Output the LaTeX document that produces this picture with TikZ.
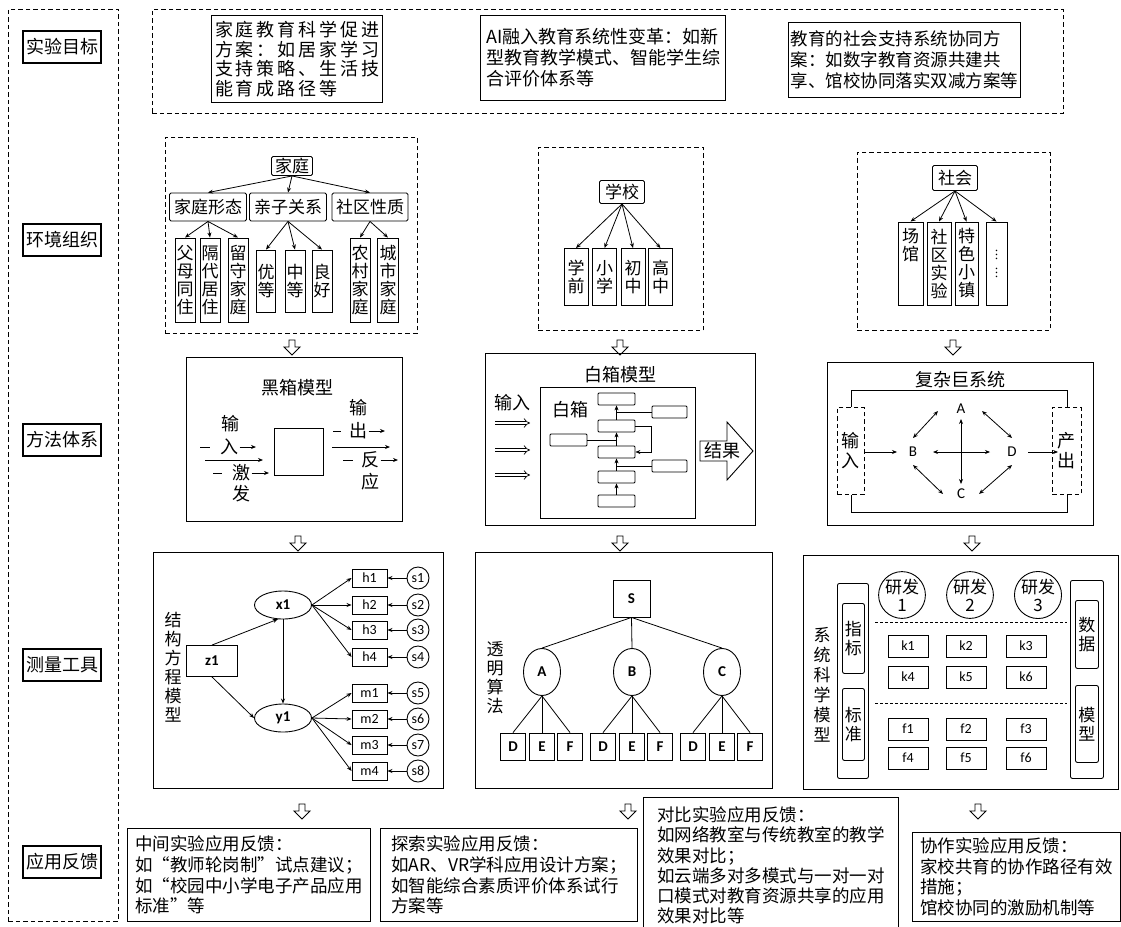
\documentclass[tikz,border=0pt]{standalone}
\usepackage{fontspec}
\newfontfamily\cjk{Noto Sans CJK SC}
\newfontfamily\cjkw[LetterSpace=16]{Noto Sans CJK SC}
\newfontfamily\lat{Carlito}
\usetikzlibrary{arrows.meta,shapes.geometric,calc}
\tikzset{
  every node/.style={font=\cjk\fontsize{18}{20}\selectfont, inner sep=1.5},
  lab/.style={draw, line width=1.4, minimum width=78, minimum height=32, inner sep=1},
  dbox/.style={draw, line width=0.9, dash pattern=on 4.5pt off 3pt},
  goal/.style={draw, line width=1.2, align=left, inner sep=2},
  panel/.style={draw, line width=1.1},
  fb/.style={draw, line width=1, align=left, inner sep=3, font=\cjk\fontsize{17.5}{20.6}\selectfont},
  tn/.style={draw, rounded corners=1.5, line width=0.9, inner sep=0, font=\cjk\fontsize{17}{18}\selectfont},
  leaf/.style={draw, line width=0.9, align=center, inner sep=0, font=\cjk\fontsize{17}{18}\selectfont},
  arr/.style={-{Stealth[length=5pt,width=4pt]}, line width=0.8},
  darr/.style={{Stealth[length=5pt,width=4pt]}-{Stealth[length=5pt,width=4pt]}, line width=0.8},
  dbl/.style={double, double distance=2.6pt, line width=0.7, -{Implies}},
  sb/.style={draw, rounded corners=1, line width=0.8, minimum width=37, minimum height=12, inner sep=0},
  lt/.style={font=\lat\fontsize{14}{14}\selectfont},
  ltb/.style={font=\lat\bfseries\fontsize{15}{15}\selectfont},
  hbox/.style={draw, line width=0.9, minimum width=35, minimum height=18, inner sep=0, lt},
  sc/.style={draw, circle, line width=0.9, minimum size=22, inner sep=0, lt},
  lf/.style={draw, line width=0.9, minimum width=25, minimum height=27, inner sep=0, ltb},
  kb/.style={draw, line width=0.9, minimum width=40, minimum height=22, inner sep=0, lt},
  vt/.style={align=center, font=\cjk\fontsize{17}{19}\selectfont},
  hdown/.pic={\draw[line width=0.9, fill=white] (-3,0) -- (3,0) -- (3,7) -- (8,7) -- (0,15) -- (-8,7) -- (-3,7) -- cycle;}
}
\begin{document}
\begin{tikzpicture}[x=1pt,y=-1pt]
\useasboundingbox (0,0) rectangle (1121,926);
\fill[white] (0,0) rectangle (1121,926);

% ---------- left column ----------
\node[dbox, anchor=north west, minimum width=110, minimum height=912] (leftcol) at (8,9) {};
\node[lab] (l1) at (62,47) {实验目标};
\node[lab] (l2) at (62,240) {环境组织};
\node[lab] (l3) at (62,440) {方法体系};
\node[lab] (l4) at (62,665) {测量工具};
\node[lab] (l5) at (62,862) {应用反馈};

% ---------- goals ----------
\node[dbox, anchor=north west, minimum width=911, minimum height=104] (topbox) at (152,9) {};
\node[goal, anchor=north west, minimum width=171, minimum height=87, font=\cjkw\fontsize{18}{19.6}\selectfont] (g1) at (211,15) {家庭教育科学促进\\方案：如居家学习\\支持策略、生活技\\能育成路径等};
\node[goal, anchor=north west, minimum width=245, minimum height=85, font=\cjk\fontsize{18}{21}\selectfont] (g2) at (480,15) {AI融入教育系统性变革：如新\\型教育教学模式、智能学生综\\合评价体系等};
\node[goal, anchor=north west, minimum width=232, minimum height=75, font=\cjk\fontsize{17.5}{21}\selectfont] (g3) at (788,22) {教育的社会支持系统协同方\\案：如数字教育资源共建共\\享、馆校协同落实双减方案等};

% ---------- family ----------
\node[dbox, anchor=north west, minimum width=252, minimum height=196] (famb) at (165,137) {};
\node[tn, minimum width=41, minimum height=19] (fam) at (292,166) {家庭};
\node[tn, minimum width=77, minimum height=28] (f1) at (208,207) {家庭形态};
\node[tn, minimum width=77, minimum height=28] (f2) at (288,207) {亲子关系};
\node[tn, minimum width=76, minimum height=28] (f3) at (370,207) {社区性质};
\node[leaf, minimum width=20, minimum height=84] (f11) at (185,280) {父\\母\\同\\住};
\node[leaf, minimum width=20, minimum height=84] (f12) at (210,280) {隔\\代\\居\\住};
\node[leaf, minimum width=20, minimum height=84] (f13) at (238,280) {留\\守\\家\\庭};
\node[leaf, minimum width=19, minimum height=62] (f21) at (266,281) {优\\等};
\node[leaf, minimum width=20, minimum height=62] (f22) at (295,281) {中\\等};
\node[leaf, minimum width=20, minimum height=62] (f23) at (322,281) {良\\好};
\node[leaf, minimum width=20, minimum height=84] (f31) at (360,280) {农\\村\\家\\庭};
\node[leaf, minimum width=21, minimum height=84] (f32) at (388,280) {城\\市\\家\\庭};
\foreach \c in {f1,f2,f3} \draw[arr] (fam.south) -- (\c.north);
\foreach \c in {f11,f12,f13} \draw[arr] (f1.south) -- (\c.north);
\foreach \c in {f21,f22,f23} \draw[arr] (f2.south) -- (\c.north);
\foreach \c in {f31,f32} \draw[arr] (f3.south) -- (\c.north);

% ---------- school ----------
\node[dbox, anchor=north west, minimum width=165, minimum height=183] (schb) at (538,147) {};
\node[tn, minimum width=45, minimum height=23] (sch) at (622,192) {学校};
\node[leaf, minimum width=24, minimum height=57] (s1) at (576,277) {学\\前};
\node[leaf, minimum width=24, minimum height=57] (s2) at (604.5,277) {小\\学};
\node[leaf, minimum width=24, minimum height=57] (s3) at (633,277) {初\\中};
\node[leaf, minimum width=24, minimum height=57] (s4) at (660.5,277) {高\\中};
\foreach \c in {s1,s2,s3,s4} \draw[arr] (sch.south) -- (\c.north);

% ---------- society ----------
\node[dbox, anchor=north west, minimum width=193, minimum height=178] (socb) at (857,152) {};
\node[tn, minimum width=45, minimum height=25] (soc) at (955,178) {社会};
\node[leaf, minimum width=25, minimum height=83] (o1) at (910.5,263.5) {场\\馆\\\phantom{场}\\\phantom{场}};
\node[leaf, minimum width=24, minimum height=83] (o2) at (939,263.5) {社\\区\\实\\验};
\node[leaf, minimum width=23, minimum height=83] (o3) at (966.5,263.5) {特\\色\\小\\镇};
\node[leaf, minimum width=21, minimum height=83, font=\cjk\fontsize{12}{18}\selectfont] (o4) at (996.5,263.5) {︙\\︙};
\foreach \c in {o1,o2,o3,o4} \draw[arr] (soc.south) -- (\c.north);

% ---------- hollow arrows ----------
\pic at (292,340) {hdown}; \pic at (620,340) {hdown}; \pic at (953,340) {hdown};
\pic at (298,536) {hdown}; \pic at (620,536) {hdown}; \pic at (972,536) {hdown};
\pic at (302,804) {hdown}; \pic at (628,804) {hdown}; \pic at (978,804) {hdown};

% ---------- black box ----------
\node[panel, anchor=north west, minimum width=216, minimum height=164] (bb) at (186,357) {};
\node (bbt) at (297,388) {黑箱模型};
\node[draw, line width=1, minimum width=49, minimum height=47, inner sep=0] (bsq) at (298.5,451.5) {};
\node (bi1) at (230,424) {输};
\node (bi2) at (229,447) {入};
\node (bj1) at (241,473) {激};
\node (bj2) at (241,494) {发};
\node (bo1) at (358,408) {输};
\node (bo2) at (358,431) {出};
\node (br1) at (370,460) {反};
\node (br2) at (370,482) {应};
\coordinate (pi1) at (200,447); \coordinate (pi2) at (256,447);
\draw[line width=0.8, shorten >=8pt] (pi1) -- (bi2.west); \draw[arr] (bi2.east) -- (pi2);
\coordinate (pl1) at (205,460); \coordinate (pl2) at (263,460); \draw[arr] (pl1) -- (pl2);
\coordinate (pj1) at (213,473); \coordinate (pj2) at (269,473);
\draw[line width=0.8, shorten >=8pt] (pj1) -- (bj1.west); \draw[arr] (bj1.east) -- (pj2);
\coordinate (po1) at (333,431); \coordinate (po2) at (385,431);
\draw[line width=0.8, shorten >=6pt] (po1) -- (bo2.west); \draw[arr] (bo2.east) -- (po2);
\coordinate (pm1) at (332,447); \coordinate (pm2) at (390,447); \draw[arr] (pm1) -- (pm2);
\coordinate (pr1) at (343,460); \coordinate (pr2) at (398,460);
\draw[line width=0.8, shorten >=6pt] (pr1) -- (br1.west); \draw[arr] (br1.east) -- (pr2);

% ---------- white box ----------
\node[panel, anchor=north west, minimum width=270, minimum height=172] (wb) at (485,353) {};
\node (wbt) at (620,375) {白箱模型};
\node[draw, line width=0.9, anchor=north west, minimum width=155, minimum height=131] (wbi) at (540,387) {};
\node (wbin) at (512,403) {输入};
\node (wbl) at (570,410) {白箱};
\foreach \k/\yy in {1/423,2/450,3/475} {
  \coordinate (da\k) at (495,\yy); \coordinate (db\k) at (530,\yy);
  \draw[dbl] (da\k) -- (db\k);
}
\node[sb] (c1) at (616.5,399) {};
\node[sb] (c2) at (616.5,426) {};
\node[sb] (c3) at (616.5,452) {};
\node[sb] (c4) at (616.5,477) {};
\node[sb] (c5) at (616.5,501) {};
\node[sb, minimum width=35] (r1) at (669.5,412) {};
\node[sb, minimum width=35] (r2) at (669.5,466) {};
\node[sb] (lb) at (568.5,440) {};
\draw[arr, line width=0.6] (c2.north) -- (c1.south);
\draw[arr, line width=0.6] (c3.north) -- (c2.south);
\draw[arr, line width=0.6] (c4.north) -- (c3.south);
\draw[arr, line width=0.6] (c5.north) -- (c4.south);
\draw[line width=0.6] (r1.west) -- (r1.west -| c1.south);
\draw[line width=0.6] (lb.east) -- (lb.east -| c2.south);
\draw[line width=0.6] (r2.west) -- (r2.west -| c3.south);
\draw[arr, line width=0.6] (c2.east) -- ++(16,0) |- (c3.east);
\draw[line width=0.9, fill=white] (700,441) -- (727,441) -- (727,422) -- (753,451) -- (727,480) -- (727,461) -- (700,461) -- cycle;
\node (res) at (722,451) {结果};

% ---------- complex giant system ----------
\node[panel, anchor=north west, minimum width=266, minimum height=163] (cx) at (827,362) {};
\node (cxt) at (960,380) {复杂巨系统};
\node[dbox, anchor=north west, minimum width=27, minimum height=87, align=center, inner sep=0] (cin) at (837,407) {输\\入};
\node[dbox, anchor=north west, minimum width=29, minimum height=87, align=center, inner sep=0] (cout) at (1052,407) {产\\出};
\draw[line width=0.9] (cin.north) -- ++(0,-17) -| (cout.north);
\draw[line width=0.9] (cin.south) -- ++(0,18) -| (cout.south);
\node[lt, font=\lat\fontsize{15}{15}\selectfont] (cA) at (961,409) {A};
\node[lt, font=\lat\fontsize{15}{15}\selectfont] (cB) at (913,452) {B};
\node[lt, font=\lat\fontsize{15}{15}\selectfont] (cC) at (961,494) {C};
\node[lt, font=\lat\fontsize{15}{15}\selectfont] (cD) at (1012,452) {D};
\draw[darr] ($(cA)+(-23,2)$) -- ($(cB)+(0,-14)$);
\draw[darr] ($(cA)+(21,2)$) -- ($(cD)+(0,-14)$);
\draw[darr] ($(cB)+(0,13)$) -- ($(cC)+(-18,0)$);
\draw[darr] ($(cD)+(0,13)$) -- ($(cC)+(18,0)$);
\draw[darr] ($(cA)+(0,10)$) -- ($(cC)+(0,-10)$);
\draw[darr] ($(cB)+(20,0)$) -- ($(cD)+(-22,0)$);
\draw[arr] (cin.east |- cB) -- ($(cB)+(-16,0)$);
\draw[arr] ($(cD)+(16,0)$) -- ($(cout.west |- cD)+(6,0)$);

% ---------- SEM ----------
\node[panel, anchor=north west, minimum width=290, minimum height=236] (sem) at (153,552) {};
\node[vt] (semt) at (173,667) {结\\构\\方\\程\\模\\型};
\node[draw, line width=0.9, minimum width=51, minimum height=31, inner sep=0, ltb] (z1) at (212,661) {z1};
\node[draw, ellipse, line width=0.9, minimum width=57, minimum height=28, inner sep=0, ltb] (x1) at (283,605) {x1};
\node[draw, ellipse, line width=0.9, minimum width=57, minimum height=28, inner sep=0, ltb] (y1) at (283,718) {y1};
\foreach \i/\yy in {1/578,2/605,3/630,4/657} {
  \node[hbox] (h\i) at (369.5,\yy) {h\i};
  \node[sc] (s\i) at (418,\yy) {s\i};
  \draw[arr] (x1.east) -- (h\i.west);
  \draw[arr] (s\i.west) -- (h\i.east);
}
\foreach \i/\yy/\s in {1/693/5,2/719/6,3/745/7,4/771/8} {
  \node[hbox] (m\i) at (369.5,\yy) {m\i};
  \node[sc] (s\s) at (418,\yy) {s\s};
  \draw[arr] (y1.east) -- (m\i.west);
  \draw[arr] (s\s.west) -- (m\i.east);
}
\draw[arr] (z1.north) -- (x1.250);
\draw[arr] (z1.south) -- (y1.west);
\draw[arr] (x1.south) -- (y1.north);

% ---------- transparent algorithm ----------
\node[panel, anchor=north west, minimum width=297, minimum height=236] (tb) at (475,552) {};
\node[vt] (tbt) at (495,678) {透\\明\\算\\法};
\node[draw, line width=0.9, minimum width=37, minimum height=37, inner sep=0, ltb] (tS) at (631.5,598.5) {S};
\foreach \n/\xx in {A/542,B/632,C/722} {
  \node[draw, ellipse, line width=0.9, minimum width=37, minimum height=47, inner sep=0, ltb] (t\n) at (\xx,672) {\n};
  \draw[line width=0.8] (tS.south) -- (t\n.north);
  \foreach \q/\dx in {D/-29,E/0,F/28} {
    \node[lf] (t\n\q) at (\xx+\dx,746.5) {\q};
    \draw[line width=0.8] (t\n.south) -- (t\n\q.north);
  }
}

% ---------- system science model ----------
\node[panel, anchor=north west, minimum width=315, minimum height=234] (sys) at (803,555) {};
\node[vt, font=\cjk\fontsize{17}{20}\selectfont] (syst) at (822,685) {系\\统\\科\\学\\模\\型};
\node[draw, rounded corners=2, line width=0.9, anchor=north west, minimum width=31, minimum height=195] (sysL) at (837,583) {};
\node[draw, rounded corners=2, line width=0.9, anchor=north west, minimum width=22, minimum height=70, inner sep=0, vt] (zb) at (842,603) {指\\标};
\node[draw, rounded corners=2, line width=0.9, anchor=north west, minimum width=22, minimum height=72, inner sep=0, vt] (bz) at (842,688) {标\\准};
\node[draw, rounded corners=2, line width=0.9, anchor=north west, minimum width=33, minimum height=198] (sysR) at (1070,580) {};
\node[draw, rounded corners=2, line width=0.9, anchor=north west, minimum width=23, minimum height=68, inner sep=0, vt] (sj) at (1075,600) {数\\据};
\node[draw, rounded corners=2, line width=0.9, anchor=north west, minimum width=23, minimum height=77, inner sep=0, vt] (mx) at (1075,685) {模\\型};
\foreach \i/\xx in {1/902,2/970,3/1038} {
  \node[draw, circle, line width=0.9, minimum size=44, inner sep=0, align=center, font=\cjk\fontsize{17}{18}\selectfont] (rd\i) at (\xx,595) {研发\\\i};
}
\coordinate (dl1) at (875,622); \coordinate (dr1) at (1067,622);
\coordinate (dl2) at (875,703); \coordinate (dr2) at (1067,703);
\draw[line width=0.9, dash pattern=on 3pt off 2pt] (dl1) -- (dr1);
\draw[line width=0.9, dash pattern=on 3pt off 2pt] (dl2) -- (dr2);
\foreach \i/\xx/\yy in {1/908/646,2/966/646,3/1026/646,4/908/677,5/966/677,6/1026/677} {
  \node[kb] (k\i) at (\xx,\yy) {k\i};
}
\foreach \i/\xx/\yy in {1/908/729,2/966/729,3/1026/729,4/908/758,5/966/758,6/1026/758} {
  \node[kb] (ff\i) at (\xx,\yy) {f\i};
}

% ---------- feedback ----------
\node[fb, anchor=north west, minimum width=243, minimum height=93] (b1) at (127,828) {中间实验应用反馈：\\如“教师轮岗制”试点建议；\\如“校园中小学电子产品应用\\标准”等};
\node[fb, anchor=north west, minimum width=257, minimum height=93] (b2) at (380,828) {探索实验应用反馈：\\如AR、VR学科应用设计方案；\\如智能综合素质评价体系试行\\方案等};
\node[fb, anchor=north west, minimum width=255, minimum height=136, font=\cjk\fontsize{17.5}{20.2}\selectfont] (b3) at (643,797) {对比实验应用反馈：\\如网络教室与传统教室的教学\\效果对比；\\如云端多对多模式与一对一对\\口模式对教育资源共享的应用\\效果对比等};
\node[fb, anchor=north west, minimum width=208, minimum height=89] (b4) at (912,832) {协作实验应用反馈：\\家校共育的协作路径有效\\措施；\\馆校协同的激励机制等};
\end{tikzpicture}
\end{document}
